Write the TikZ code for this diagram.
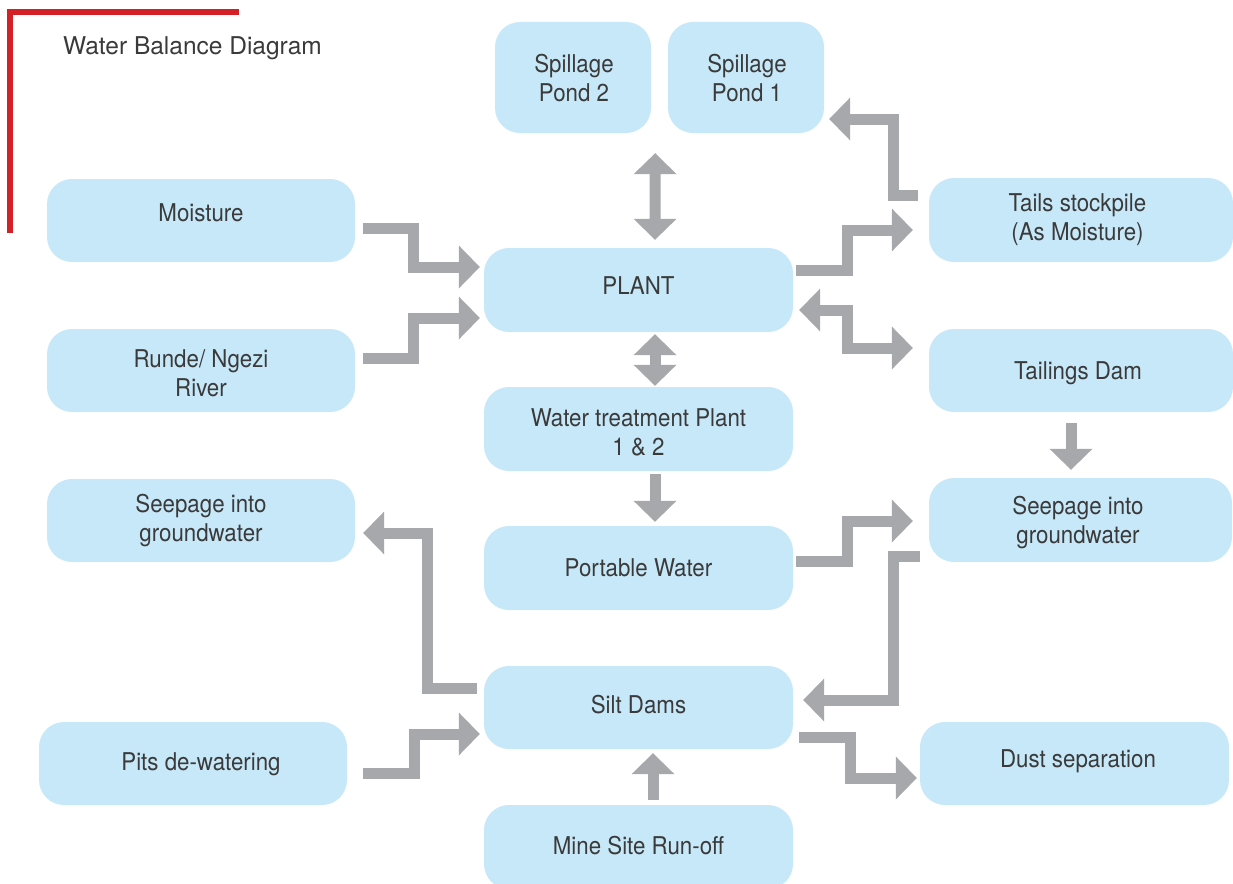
\documentclass[tikz,border=0pt]{standalone}
\usepackage{fontspec}
\setmainfont{TeX Gyre Heros}
\newfontfamily\boxfont{TeX Gyre Heros}[FakeStretch=0.91]
\usetikzlibrary{arrows.meta,calc}
\definecolor{boxblue}{RGB}{199,232,248}
\definecolor{arrowgray}{RGB}{166,168,171}
\definecolor{txtgray}{RGB}{58,58,58}
\definecolor{accentred}{RGB}{212,32,39}
% shift a (possibly multi-line) text by dx (right) and dy (up) without changing its box
\newcommand\txtnudge[3]{\raisebox{#2}[\height][\depth]{\hspace*{#1}\begin{tabular}{@{}c@{}}#3\end{tabular}\hspace*{-#1}}}
\tikzset{
  wbox/.style={fill=boxblue, draw=none, rounded corners=25pt, inner sep=0pt,
    minimum width=308pt, minimum height=83pt, align=center, text=txtgray,
    font=\boxfont\fontsize{24.5}{29}\selectfont},
  pond/.style={wbox, minimum width=156pt, minimum height=111pt},
  flow/.style={draw=arrowgray, line width=11pt, line join=miter, line cap=butt,
    -{Triangle[length=21pt,width=43pt,line width=0pt]}},
  biflow/.style={draw=arrowgray, line width=11pt, line join=miter, line cap=butt,
    {Triangle[length=21pt,width=43pt,line width=0pt]}-{Triangle[length=21pt,width=43pt,line width=0pt]}},
  redline/.style={draw=accentred, line width=6pt, line join=miter, line cap=butt}
}
\begin{document}
\begin{tikzpicture}[x=1pt,y=-1pt]
\useasboundingbox (0,0) rectangle (1233,883);
\clip (0,0) rectangle (1233,883);
% title and red frame
\draw[redline] (10,233) -- (10,12) -- (239,12);
\node[anchor=base west, inner sep=0pt, text=txtgray, font=\fontsize{24.5}{29}\selectfont] (title) at (63,55) {Water Balance Diagram};
% boxes
\node[pond] (sp2) at (573,77.5) {\txtnudge{1pt}{-3.5pt}{Spillage\\Pond 2}};
\node[pond] (sp1) at (746,77.5) {\txtnudge{1pt}{-3.5pt}{Spillage\\Pond 1}};
\node[wbox] (moist) at (201,220.5) {\txtnudge{0pt}{5pt}{Moisture}};
\node[wbox, minimum width=309pt, minimum height=84pt] (plant) at (638.5,290) {\txtnudge{0pt}{1.5pt}{PLANT}};
\node[wbox] (river) at (201,370.5) {\txtnudge{0pt}{-6pt}{Runde/ Ngezi\\River}};
\node[wbox, minimum width=304pt, minimum height=84pt] (tails) at (1081,220) {\txtnudge{-3.5pt}{0pt}{Tails stockpile\\(As Moisture)}};
\node[wbox, minimum width=304pt] (tdam) at (1081,370.5) {\txtnudge{-3pt}{-3pt}{Tailings Dam}};
\node[wbox, minimum width=309pt, minimum height=84pt] (wtp) at (638.5,429) {\txtnudge{0pt}{-6pt}{Water treatment Plant\\1 \& 2}};
\node[wbox] (seepL) at (201,520.5) {Seepage into\\groundwater};
\node[wbox, minimum width=303pt, minimum height=84pt] (seepR) at (1080.5,520) {\txtnudge{-2.5pt}{-3pt}{Seepage into\\groundwater}};
\node[wbox, minimum width=309pt, minimum height=84pt] (port) at (638.5,568) {Portable Water};
\node[wbox, minimum width=309pt] (silt) at (638.5,707.5) {\txtnudge{0pt}{0pt}{Silt Dams}};
\node[wbox] (pits) at (193,763.5) {\txtnudge{8pt}{-1pt}{Pits de-watering}};
\node[wbox, minimum width=309pt] (dust) at (1074.5,763.5) {\txtnudge{3.5pt}{2pt}{Dust separation}};
\node[wbox, minimum width=309pt, minimum height=84pt] (mine) at (638.5,847) {\txtnudge{0pt}{-2pt}{Mine Site Run-off}};
% connectors
\draw[flow] ($(moist.east)+(8,7.5)$) -| (413,267) -- ($(plant.west)+(-4,-23)$);
\draw[flow] ($(river.east)+(8,-12.5)$) -| (413,318) -- ($(plant.west)+(-4,28)$);
\draw[biflow] ($(sp2.south east)+(4,20)$) -- ($(plant.north)+(16.5,-8)$);
\draw[biflow] ($(plant.south)+(16.5,2)$) -- ($(wtp.north)+(16.5,-1)$);
\draw[flow] ($(wtp.south)+(16.5,3)$) -- ($(port.north)+(16.5,-4)$);
\draw[flow] ($(tails.west)+(-11,-25)$) -| (893,119) -- ($(sp1.east)+(5,41.5)$);
\draw[flow] ($(plant.east)+(3,-20)$) -| (847,230) -- ($(tails.west)+(-16,10)$);
\draw[biflow] ($(plant.east)+(6,20)$) -| (847,348) -- ($(tdam.west)+(-16,-22.5)$);
\draw[flow] ($(port.east)+(3,-7)$) -| (847,521) -- ($(seepR.west)+(-16,1)$);
\draw[flow] ($(seepR.west)+(-9,36)$) -| (893,700) -- ($(silt.east)+(10,-7.5)$);
\draw[flow] ($(silt.east)+(6,29.5)$) -| (850,778) -- ($(dust.west)+(-3,14.5)$);
\draw[flow] ($(silt.west)+(-7,-19.5)$) -| (427,533) -- ($(seepL.east)+(8,12.5)$);
\draw[flow] ($(pits.east)+(16,9.5)$) -| (414,734) -- ($(silt.west)+(-4,26.5)$);
\draw[flow] ($(mine.north)+(14.5,-5)$) -- ($(silt.south)+(14.5,4)$);
\draw[flow] ($(tdam.south)+(-10,11)$) -- ($(seepR.north)+(-9.5,-8)$);
\end{tikzpicture}
\end{document}
